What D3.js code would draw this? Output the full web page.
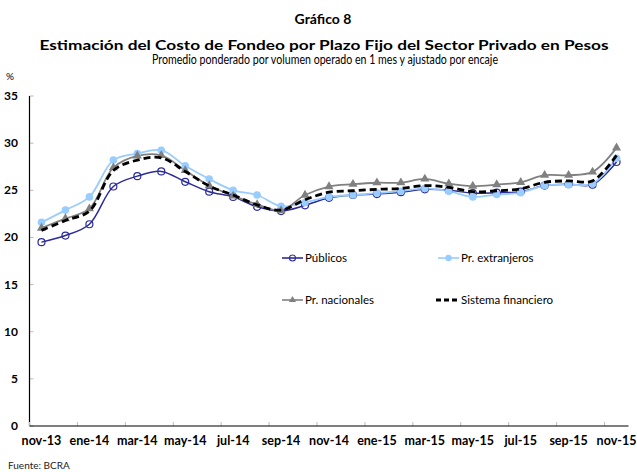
<!DOCTYPE html>
<html><head><meta charset="utf-8">
<script src="https://cdn.jsdelivr.net/npm/d3@7"></script>
<style>body{margin:0;background:#fff;} svg{display:block;font-family:Lato,"Open Sans",sans-serif;}</style>
</head><body>
<svg id="c" width="637" height="472"></svg>
<script>
const months = ["nov-13","dic-13","ene-14","feb-14","mar-14","abr-14","may-14","jun-14","jul-14","ago-14","sep-14","oct-14","nov-14","dic-14","ene-15","feb-15","mar-15","abr-15","may-15","jun-15","jul-15","ago-15","sep-15","oct-15","nov-15"];
const publicos = [19.5,20.2,21.4,25.4,26.5,27.0,25.9,24.85,24.3,23.25,22.8,23.4,24.2,24.5,24.6,24.8,25.1,25.0,24.7,24.75,24.85,25.5,25.65,25.6,28.0];
const extranjeros = [21.6,22.9,24.3,28.2,28.9,29.25,27.6,26.2,25.0,24.5,23.3,23.7,24.3,24.5,24.7,24.9,25.2,24.9,24.3,24.55,24.75,25.5,25.6,25.7,28.4];
const nacionales = [21.0,22.0,23.05,27.4,28.65,28.7,27.1,25.5,24.4,23.5,22.85,24.5,25.4,25.65,25.8,25.8,26.2,25.7,25.45,25.6,25.85,26.6,26.6,26.95,29.5];
const sistema = [20.75,21.8,22.8,27.1,28.2,28.45,27.0,25.45,24.5,23.45,22.9,24.0,24.8,24.95,25.1,25.2,25.5,25.3,24.85,24.95,25.15,25.85,26.0,26.0,28.7];
const yTicks = [0,5,10,15,20,25,30,35];
const seriesNames = ["Públicos","Pr. extranjeros","Pr. nacionales","Sistema financiero"];

const svg = d3.select("#c");
const L = 29.5, R = 628.5, T = 96, B = 426;
const x = d3.scaleBand().domain(months).range([L, R]).padding(0);
const cx = m => x(m) + x.bandwidth()/2;
const y = d3.scaleLinear().domain([0,35]).range([B, T]);

// titles
svg.append("text").attr("x",323).attr("y",24).attr("text-anchor","middle").attr("font-weight","bold").attr("font-size",14).text("Gráfico 8");
svg.append("text").attr("x",324).attr("y",50).attr("text-anchor","middle").attr("font-weight","bold").attr("font-size",14).attr("textLength",569).attr("lengthAdjust","spacingAndGlyphs").text("Estimación del Costo de Fondeo por Plazo Fijo del Sector Privado en Pesos");
svg.append("text").attr("x",325).attr("y",64).attr("text-anchor","middle").attr("font-size",12.5).attr("textLength",346).attr("lengthAdjust","spacingAndGlyphs").text("Promedio ponderado por volumen operado en 1 mes y ajustado por encaje");
svg.append("text").attr("x",6).attr("y",80).attr("font-size",10).text("%");
svg.append("text").attr("x",8).attr("y",469).attr("font-size",10).attr("fill","#222").text("Fuente: BCRA");

// y axis
const ya = svg.append("g");
ya.selectAll("line.t").data(yTicks).join("line").attr("x1",L).attr("x2",L+4).attr("y1",d=>y(d)).attr("y2",d=>y(d)).attr("stroke","#bbb");
ya.selectAll("text").data(yTicks).join("text").attr("x",18).attr("y",d=>y(d)+4).attr("text-anchor","end").attr("font-weight","bold").attr("font-size",12).text(d=>d);
ya.append("line").attr("x1",L).attr("x2",L).attr("y1",T).attr("y2",B).attr("stroke","#000").attr("stroke-width",1.2);

// x axis
const xa = svg.append("g");
const tickBounds = months.filter((m,i)=>i%2===0).map(m=>x(m));
xa.selectAll("line.t").data(tickBounds).join("line").attr("x1",d=>d).attr("x2",d=>d).attr("y1",B).attr("y2",B-4).attr("stroke","#bbb");
xa.append("line").attr("x1",L).attr("x2",R).attr("y1",B).attr("y2",B).attr("stroke","#000").attr("stroke-width",1.2);
xa.selectAll("text").data(months.filter((m,i)=>i%2===0)).join("text").attr("x",d=>cx(d)).attr("y",445).attr("text-anchor","middle").attr("font-weight","bold").attr("font-size",12.5).text(d=>d);

const line = vals => d3.line().x((d,i)=>cx(months[i])).y(d=>y(d)).curve(d3.curveCatmullRom.alpha(0.5))(vals);
const cPub = "#2B2B9A", cExt = "#99CCFF", cNac = "#808080", cSis = "#000";

// series
svg.append("path").attr("d",line(publicos)).attr("fill","none").attr("stroke",cPub).attr("stroke-width",1.5);
svg.append("path").attr("d",line(extranjeros)).attr("fill","none").attr("stroke",cExt).attr("stroke-width",1.8);
svg.append("path").attr("d",line(nacionales)).attr("fill","none").attr("stroke",cNac).attr("stroke-width",1.8);

const tri = d3.symbol().type(d3.symbolTriangle).size(36);
svg.append("g").selectAll("circle").data(publicos).join("circle").attr("cx",(d,i)=>cx(months[i])).attr("cy",d=>y(d)).attr("r",3.5).attr("fill","none").attr("stroke",cPub).attr("stroke-width",1.2);
svg.append("g").selectAll("circle").data(extranjeros).join("circle").attr("cx",(d,i)=>cx(months[i])).attr("cy",d=>y(d)).attr("r",3.8).attr("fill",cExt);
svg.append("g").selectAll("path").data(nacionales).join("path").attr("d",tri).attr("transform",(d,i)=>`translate(${cx(months[i])},${y(d)})`).attr("fill",cNac);
svg.append("path").attr("d",line(sistema)).attr("fill","none").attr("stroke",cSis).attr("stroke-width",2.8).attr("stroke-dasharray","7,4");

// legend
const leg = [
  {n:seriesNames[0], x:282, y:258, c:cPub, m:"oc"},
  {n:seriesNames[1], x:438, y:258, c:cExt, m:"fc"},
  {n:seriesNames[2], x:282, y:300, c:cNac, m:"tri"},
  {n:seriesNames[3], x:438, y:300, c:cSis, m:"dash"}
];
const lg = svg.append("g");
leg.forEach(d=>{
  const g = lg.append("g");
  if(d.m==="dash"){
    g.append("line").attr("x1",d.x-2).attr("x2",d.x+22).attr("y1",d.y).attr("y2",d.y).attr("stroke","#000").attr("stroke-width",2.8).attr("stroke-dasharray","5,3");
  } else {
    g.append("line").attr("x1",d.x).attr("x2",d.x+21).attr("y1",d.y).attr("y2",d.y).attr("stroke",d.c).attr("stroke-width",1.6);
  }
  if(d.m==="oc") g.append("circle").attr("cx",d.x+10.5).attr("cy",d.y).attr("r",3).attr("fill","none").attr("stroke",d.c).attr("stroke-width",1.1);
  if(d.m==="fc") g.append("circle").attr("cx",d.x+10.5).attr("cy",d.y).attr("r",3.2).attr("fill",d.c);
  if(d.m==="tri") g.append("path").attr("d",d3.symbol().type(d3.symbolTriangle).size(22)()).attr("transform",`translate(${d.x+10.5},${d.y})`).attr("fill",d.c);
  g.append("text").attr("x",d.x+23).attr("y",d.y+4).attr("font-size",11.5).text(d.n);
});
</script>
</body></html>
